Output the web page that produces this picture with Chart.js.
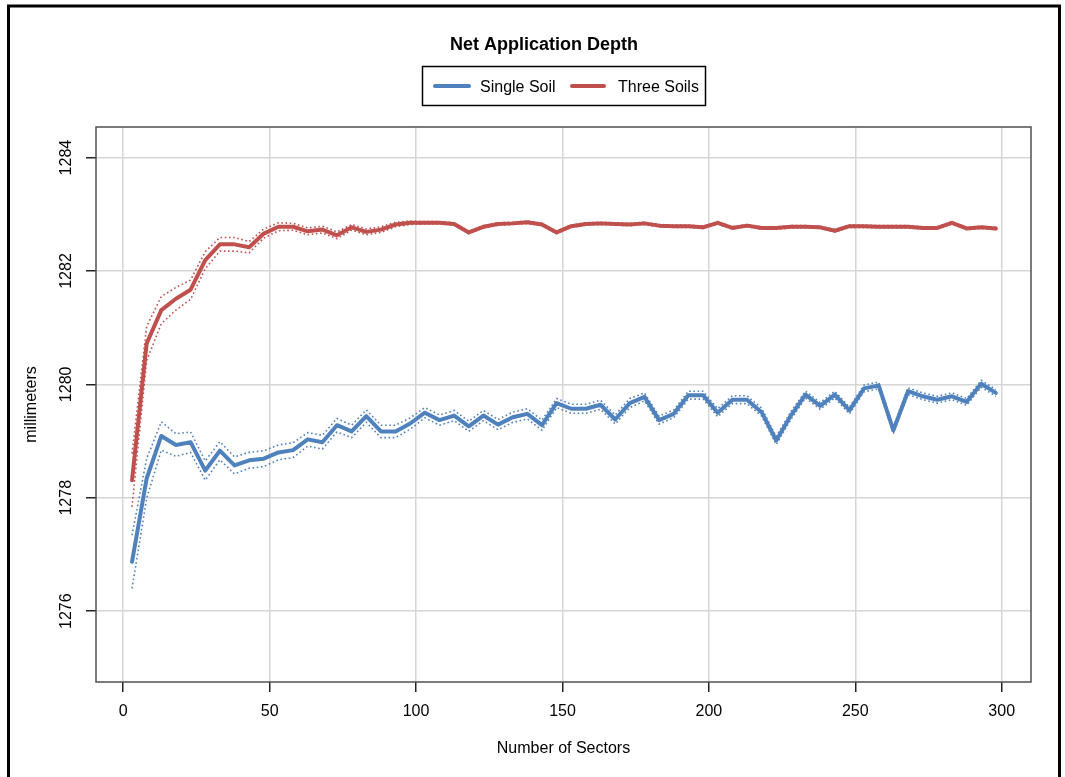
<!DOCTYPE html>
<html>
<head>
<meta charset="utf-8">
<title>Net Application Depth</title>
<script src="https://cdn.jsdelivr.net/npm/chart.js@4/dist/chart.umd.min.js"></script>
<style>
  html, body { margin: 0; padding: 0; background: #ffffff; }
  #wrap { position: relative; width: 1065px; height: 777px; }
</style>
</head>
<body>
<div id="wrap"><canvas id="chart" width="1065" height="777"></canvas></div>
<script>
// Number of sectors at which the depth was evaluated
const sectors = [3, 8, 13, 18, 23, 28, 33, 38, 43, 48,
  53, 58, 63, 68, 73, 78, 83, 88, 93, 98,
  103, 108, 113, 118, 123, 128, 133, 138, 143, 148,
  153, 158, 163, 168, 173, 178, 183, 188, 193, 198,
  203, 208, 213, 218, 223, 228, 233, 238, 243, 248,
  253, 258, 263, 268, 273, 278, 283, 288, 293, 298];

// Net application depth (mm), single soil
const singleSoil = [1276.87, 1278.34, 1279.09, 1278.93, 1278.98, 1278.48, 1278.83, 1278.57, 1278.66, 1278.69,
  1278.80, 1278.84, 1279.03, 1278.98, 1279.28, 1279.17, 1279.44, 1279.17, 1279.17, 1279.31,
  1279.50, 1279.37, 1279.45, 1279.26, 1279.45, 1279.29, 1279.42, 1279.48, 1279.28, 1279.67,
  1279.57, 1279.57, 1279.64, 1279.38, 1279.67, 1279.78, 1279.37, 1279.48, 1279.81, 1279.81,
  1279.50, 1279.73, 1279.73, 1279.51, 1279.01, 1279.45, 1279.82, 1279.62, 1279.82, 1279.54,
  1279.93, 1279.98, 1279.19, 1279.88, 1279.79, 1279.73, 1279.79, 1279.69, 1280.01, 1279.85];

// Half-width of the dotted band around the single soil curve (mm)
const singleSoilSpread = [0.47, 0.35, 0.25, 0.20, 0.18, 0.17, 0.16, 0.15, 0.14, 0.14,
  0.13, 0.13, 0.12, 0.12, 0.12, 0.11, 0.11, 0.11, 0.11, 0.10,
  0.09, 0.09, 0.09, 0.09, 0.09, 0.09, 0.09, 0.09, 0.09, 0.08,
  0.08, 0.08, 0.08, 0.08, 0.08, 0.07, 0.07, 0.07, 0.07, 0.07,
  0.07, 0.07, 0.07, 0.07, 0.07, 0.07, 0.06, 0.06, 0.06, 0.06,
  0.06, 0.06, 0.06, 0.06, 0.06, 0.06, 0.06, 0.06, 0.06, 0.06];

// Net application depth (mm), three soils
const threeSoils = [1278.31, 1280.72, 1281.31, 1281.51, 1281.67, 1282.19, 1282.47, 1282.47, 1282.42, 1282.66,
  1282.78, 1282.78, 1282.70, 1282.73, 1282.63, 1282.77, 1282.69, 1282.73, 1282.82, 1282.85,
  1282.85, 1282.85, 1282.83, 1282.68, 1282.78, 1282.83, 1282.84, 1282.86, 1282.82, 1282.68,
  1282.79, 1282.83, 1282.84, 1282.83, 1282.82, 1282.84, 1282.80, 1282.79, 1282.79, 1282.77,
  1282.85, 1282.76, 1282.80, 1282.76, 1282.76, 1282.78, 1282.78, 1282.77, 1282.71, 1282.79,
  1282.79, 1282.78, 1282.78, 1282.78, 1282.76, 1282.76, 1282.85, 1282.75, 1282.77, 1282.75];

// Half-width of the dotted band around the three soils curve (mm)
const threeSoilsSpread = [0.47, 0.30, 0.24, 0.20, 0.17, 0.15, 0.12, 0.12, 0.10, 0.08,
  0.07, 0.06, 0.06, 0.06, 0.06, 0.05, 0.05, 0.05, 0.04, 0.03,
  0.02, 0.02, 0.02, 0.02, 0.02, 0.02, 0.02, 0.02, 0.02, 0.02,
  0.02, 0.02, 0.02, 0.02, 0.02, 0.02, 0.02, 0.02, 0.02, 0.02,
  0.02, 0.02, 0.02, 0.02, 0.02, 0.02, 0.02, 0.02, 0.02, 0.02,
  0.02, 0.02, 0.02, 0.02, 0.02, 0.02, 0.02, 0.02, 0.02, 0.02];

const xTicks = [0, 50, 100, 150, 200, 250, 300];
const yTicks = [1276, 1278, 1280, 1282, 1284];

const seriesNames = ['Single Soil', 'Three Soils'];
const titleText = 'Net Application Depth';
const xTitle = 'Number of Sectors';
const yTitle = 'millimeters';

const BLUE = '#4f81bd';
const RED = '#c0504d';
const FONT = '"Liberation Sans", Arial, Helvetica, sans-serif';

const pts = (ys) => sectors.map((s, i) => ({ x: s, y: ys[i] }));
const shifted = (ys, spread, sign) => sectors.map((s, i) => ({ x: s, y: ys[i] + sign * spread[i] }));

const mainLine = (label, ys, color) => ({
  label, data: pts(ys), borderColor: color, borderWidth: 4,
  pointRadius: 0, tension: 0, fill: false,
  borderJoinStyle: 'round', borderCapStyle: 'round'
});
const bandLine = (label, ys, spread, sign, color) => ({
  label, data: shifted(ys, spread, sign), borderColor: color, borderWidth: 1.6,
  borderDash: [1.6, 2.6], pointRadius: 0, tension: 0, fill: false
});

// White page, outer black frame and the box round the plot region
const framePlugin = {
  id: 'frame',
  beforeDraw(chart) {
    const ctx = chart.ctx;
    ctx.save();
    ctx.fillStyle = '#ffffff';
    ctx.fillRect(0, 0, chart.width, chart.height);
    ctx.restore();
  },
  afterDraw(chart) {
    const ctx = chart.ctx;
    const a = chart.chartArea;
    ctx.save();
    ctx.strokeStyle = '#505050';
    ctx.lineWidth = 1.5;
    ctx.strokeRect(a.left, a.top, a.right - a.left, a.bottom - a.top);
    ctx.strokeStyle = '#000000';
    ctx.lineWidth = 3;
    ctx.beginPath();
    ctx.moveTo(8.5, 777);
    ctx.lineTo(8.5, 6);
    ctx.lineTo(1059.5, 6);
    ctx.lineTo(1059.5, 777);
    ctx.stroke();
    ctx.restore();
  }
};

// Rotated y tick labels, placed from the y scale
const yLabelPlugin = {
  id: 'yLabels',
  afterDraw(chart) {
    const ctx = chart.ctx;
    const y = chart.scales.y;
    ctx.save();
    ctx.fillStyle = '#000000';
    ctx.font = '16px ' + FONT;
    ctx.textAlign = 'center';
    ctx.textBaseline = 'alphabetic';
    y.ticks.forEach(t => {
      const py = y.getPixelForValue(t.value);
      ctx.save();
      ctx.translate(71, py);
      ctx.rotate(-Math.PI / 2);
      ctx.fillText(String(t.value), 0, 0);
      ctx.restore();
    });
    ctx.restore();
  }
};

// Title and boxed legend above the plot
const headerPlugin = {
  id: 'header',
  afterDraw(chart) {
    const ctx = chart.ctx;
    ctx.save();
    ctx.fillStyle = '#000000';
    ctx.textBaseline = 'alphabetic';
    ctx.font = 'bold 18px ' + FONT;
    ctx.textAlign = 'center';
    ctx.fillText(titleText, 544, 50);

    ctx.strokeStyle = '#000000';
    ctx.lineWidth = 1.5;
    ctx.strokeRect(422.5, 66.5, 283, 39);

    const items = [
      { name: seriesNames[0], color: chart.data.datasets[0].borderColor, x0: 435, x1: 469, tx: 480 },
      { name: seriesNames[1], color: chart.data.datasets[1].borderColor, x0: 572, x1: 604, tx: 618 }
    ];
    ctx.font = '16px ' + FONT;
    ctx.textAlign = 'left';
    items.forEach(it => {
      ctx.strokeStyle = it.color;
      ctx.lineWidth = 4;
      ctx.lineCap = 'round';
      ctx.beginPath();
      ctx.moveTo(it.x0, 86);
      ctx.lineTo(it.x1, 86);
      ctx.stroke();
      ctx.fillStyle = '#000000';
      ctx.fillText(it.name, it.tx, 92);
    });
    ctx.restore();
  }
};

new Chart(document.getElementById('chart'), {
  type: 'line',
  data: {
    datasets: [
      mainLine(seriesNames[0], singleSoil, BLUE),
      mainLine(seriesNames[1], threeSoils, RED),
      bandLine(seriesNames[0] + ' upper', singleSoil, singleSoilSpread, 1, BLUE),
      bandLine(seriesNames[0] + ' lower', singleSoil, singleSoilSpread, -1, BLUE),
      bandLine(seriesNames[1] + ' upper', threeSoils, threeSoilsSpread, 1, RED),
      bandLine(seriesNames[1] + ' lower', threeSoils, threeSoilsSpread, -1, RED)
    ]
  },
  options: {
    responsive: false,
    animation: false,
    devicePixelRatio: 1,
    layout: { padding: { left: 10, right: 34, top: 127, bottom: 10 } },
    plugins: {
      legend: { display: false },
      title: { display: false },
      tooltip: { enabled: false }
    },
    scales: {
      x: {
        type: 'linear',
        min: -9.3,
        max: 310,
        afterBuildTicks(scale) { scale.ticks = xTicks.map(v => ({ value: v })); },
        afterFit(scale) { scale.height = 85; },
        grid: {
          color: '#d6d6d6', lineWidth: 1.5,
          tickColor: '#222222', tickWidth: 1.5, tickLength: 10
        },
        border: { display: false },
        ticks: {
          color: '#000000', padding: 10, maxRotation: 0, autoSkip: false,
          font: { family: FONT, size: 16 }
        },
        title: {
          display: true, text: xTitle, color: '#000000',
          font: { family: FONT, size: 16 },
          padding: { top: 0, bottom: 9 }
        }
      },
      y: {
        type: 'linear',
        min: 1274.75,
        max: 1284.54,
        afterBuildTicks(scale) { scale.ticks = yTicks.map(v => ({ value: v })); },
        afterFit(scale) { scale.width = 86; },
        grid: {
          color: '#d6d6d6', lineWidth: 1.5,
          tickColor: '#222222', tickWidth: 1.5, tickLength: 10
        },
        border: { display: false },
        ticks: { display: false },
        title: {
          display: true, text: yTitle, color: '#000000',
          font: { family: FONT, size: 16 },
          padding: { top: 12, bottom: 0 }
        }
      }
    }
  },
  plugins: [framePlugin, yLabelPlugin, headerPlugin]
});
</script>
</body>
</html>
